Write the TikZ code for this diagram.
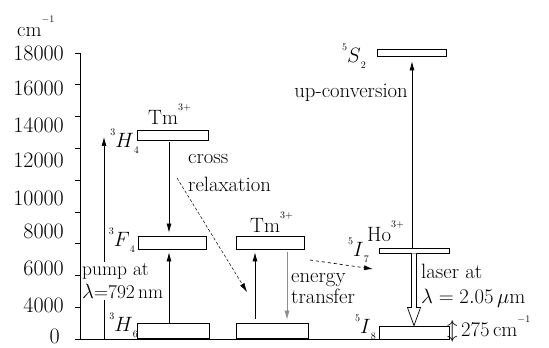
\documentclass[tikz,border=0pt]{standalone}
\usetikzlibrary{arrows.meta}

\newcommand{\hsup}[1]{\raisebox{0.7em}{\fontsize{10}{12}\selectfont #1}}
\newcommand{\term}[3]{\raisebox{0.6em}{\fontsize{10}{12}\selectfont #1}$#2$\raisebox{-0.25em}{\fontsize{10}{12}\selectfont #3}}

\begin{document}
\begin{tikzpicture}[
        x=1pt, y=1pt,
        font=\huge,
        level/.style={
            rectangle, draw=black, line width=0.8pt,
            fill=white, inner sep=0pt
        },
        lbl/.style={inner sep=0pt},
        ticklbl/.style={inner sep=0pt, anchor=east, font=\fontsize{22}{26}\selectfont},
        arr/.style={-{Latex[length=9pt,width=5pt]}, line width=0.7pt}
    ]
    \useasboundingbox (0,0) rectangle (549,348);

    % Energy axis
    \draw[line width=0.7pt] (80,295) -- (80,9) -- (450,9);
    \foreach \k in {0,...,9}
        \draw[line width=0.7pt] (75, 9+31.78*\k) -- (80, 9+31.78*\k);
    \foreach \v/\y in {18000/295, 16000/260, 14000/223, 12000/188,
                       10000/150, 8000/117, 6000/80, 4000/43}
        \node[ticklbl] (tick\v) at (64,\y) {\v};
    \node[ticklbl] (tick0) at (60,12) {0};
    \node[lbl, anchor=base west] (unit) at (17,311) {cm\hsup{$-1$}};

    % Tm3+ levels (left)
    \node[level, minimum width=71pt, minimum height=10pt] (H4) at (172.5,213) {};
    \node[level, minimum width=68pt, minimum height=13pt] (F4) at (172,105.5) {};
    \node[level, minimum width=72pt, minimum height=15pt] (H6) at (173,17.5) {};
    \node[lbl, anchor=base east] (lH4) at (139,200) {\term{3}{H}{4}};
    \node[lbl, anchor=base east] (lF4) at (135,101) {\term{3}{F}{4}};
    \node[lbl, anchor=base east] (lH6) at (138,16) {\term{3}{H}{6}};
    \node[lbl, anchor=base west] (tmA) at (148,223) {Tm\hsup{3+}};

    % Pump
    \coordinate (pumpfoot) at (104,9);
    \coordinate (pumptip) at (104,211);
    \draw[arr] (pumpfoot) -- (pumptip);
    \node[lbl, fill=white, inner sep=1pt, align=left, anchor=west,
          font=\fontsize{19.5}{23}\selectfont] (pump) at (81,67)
        {pump at\\$\lambda$=792\,nm};

    \draw[arr] ([xshift=-3.5pt,yshift=-2pt]H4.south) -- ([xshift=-3pt,yshift=3pt]F4.north);
    \draw[arr] ([xshift=-4pt]H6.north) -- ([xshift=-3pt,yshift=-3pt]F4.south);

    % Cross relaxation
    \node[lbl, align=left, anchor=west] (cross) at (188,175) {cross\\[3pt]relaxation};
    \coordinate (crfrom) at (177,170);
    \coordinate (crto) at (247,56);
    \draw[arr, densely dashed, line width=0.5pt] (crfrom) -- (crto);

    % Tm3+ levels (middle)
    \node[level, minimum width=68pt, minimum height=13pt] (TmU) at (270,105.5) {};
    \node[level, minimum width=72pt, minimum height=15pt] (TmL) at (272,17.5) {};
    \node[lbl, anchor=base west] (tmB) at (250,115) {Tm\hsup{3+}};
    \draw[arr] ([xshift=-17pt,yshift=4pt]TmL.north) -- ([xshift=-15pt,yshift=-3pt]TmU.south);
    \draw[arr, black!45] ([xshift=17pt,yshift=-3pt]TmU.south) -- ([xshift=15pt,yshift=3pt]TmL.north);

    % Energy transfer
    \node[lbl, align=left, anchor=west] (etr) at (291,60) {energy\\[-4pt]transfer};
    \coordinate (etfrom) at (310,88);
    \coordinate (etto) at (373,79);
    \draw[arr, dashed] (etfrom) -- (etto);

    % Ho3+ levels (right)
    \node[level, minimum width=69pt, minimum height=7pt] (S2) at (411.5,295.5) {};
    \node[level, minimum width=70pt, minimum height=5pt] (I7) at (414,97.5) {};
    \node[level, minimum width=70pt, minimum height=13pt] (I8) at (414,15.5) {};
    \node[lbl, anchor=base east] (lS2) at (366,285) {\term{5}{S}{2}};
    \node[lbl, anchor=base east] (lI7) at (369,91) {\term{5}{I}{7}};
    \node[lbl, anchor=base east] (lI8) at (376,14) {\term{5}{I}{8}};
    \node[lbl, anchor=base west] (ho) at (367,106) {Ho\hsup{3+}};

    % Up-conversion
    \draw[arr] ([xshift=-2pt]I7.north) -- ([xshift=0.5pt,yshift=-5pt]S2.south);
    \node[lbl, anchor=east] (upc) at (408,255) {up-conversion};

    % Laser transition (hollow arrow)
    \draw[line width=0.7pt, fill=white]
        ([xshift=-2.5pt]I7.south) -- ([xshift=-2.5pt,yshift=18pt]I8.north)
        -- ([xshift=-6.5pt,yshift=18pt]I8.north) -- (I8.north)
        -- ([xshift=6.5pt,yshift=18pt]I8.north) -- ([xshift=2.5pt,yshift=18pt]I8.north)
        -- ([xshift=2.5pt]I7.south);
    \node[lbl, align=left, anchor=west] (laser) at (421,62) {laser at\\$\lambda = 2.05\,\mu$m};
    \node[lbl, anchor=base west] (split) at (447,11) {$\updownarrow$\,275\,cm\hsup{$-1$}};

\end{tikzpicture}
\end{document}
